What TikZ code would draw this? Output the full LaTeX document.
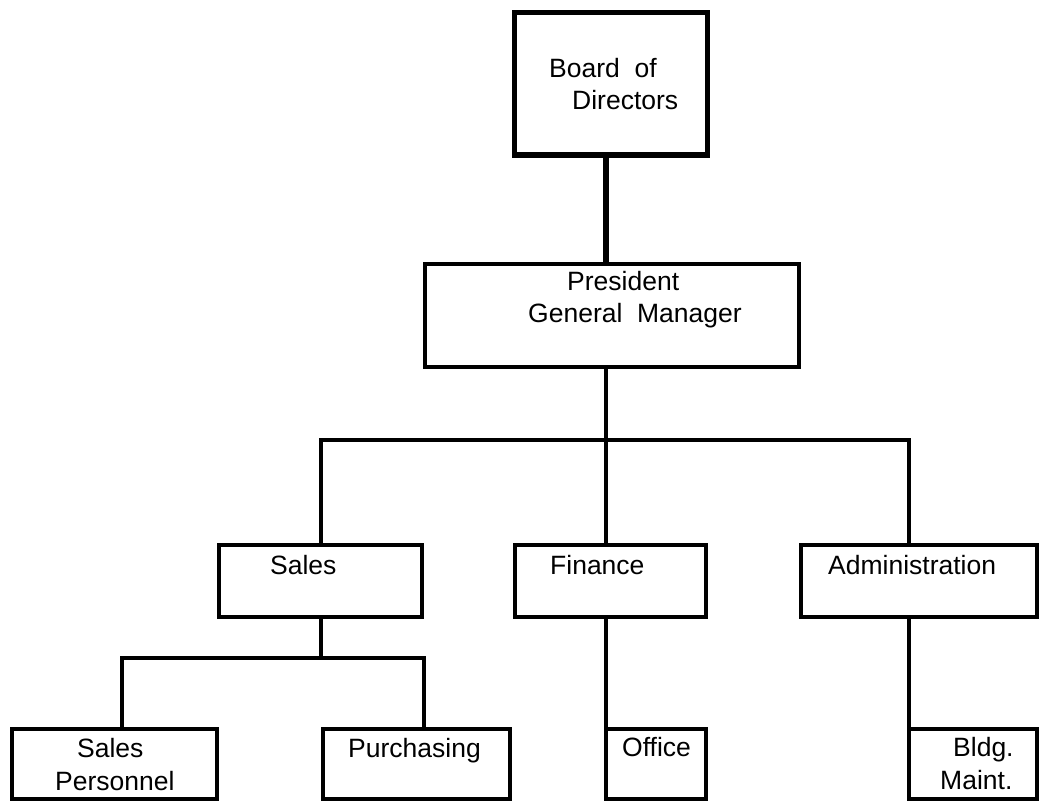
\documentclass[tikz,border=0pt]{standalone}
\usepackage{fontspec}
\setmainfont{Liberation Sans}
\usetikzlibrary{positioning}

\begin{document}
\begin{tikzpicture}[x=1pt,y=-1pt,
  box/.style={draw,line width=4pt,inner sep=0pt,outer sep=0pt,line join=miter},
  link/.style={line width=4pt,line join=miter},
  lbl/.style={anchor=base west,inner sep=0pt,font=\fontsize{26.5}{30}\selectfont}]
\useasboundingbox (0,0) rectangle (1039,802);
 % boxes
\node[box,line width=5.5pt,minimum width=193pt,minimum height=142.5pt] (board) at (611,83.75) {};
\node[box,minimum width=374pt,minimum height=103pt] (pres) at (612,315.5) {};
\node[box,minimum width=203pt,minimum height=72pt] (sales) at (320.5,581) {};
\node[box,minimum width=190.5pt,minimum height=72pt] (finance) at (610.25,581) {};
\node[box,minimum width=236pt,minimum height=72pt] (admin) at (919,581) {};
\node[box,minimum width=205pt,minimum height=70pt] (salesper) at (114.5,764) {};
\node[box,minimum width=187pt,minimum height=70pt] (purch) at (416,764) {};
\node[box,minimum width=100pt,minimum height=70pt] (office) at (656,764) {};
\node[box,minimum width=128pt,minimum height=70pt] (bldg) at (973,764) {};
 % texts
\node[lbl] (boardA) at (549,78) {Board~~of};
\node[lbl] (boardB) at (572,110) {Directors};
\node[lbl] (presA) at (567,291) {President};
\node[lbl] (presB) at (528,323) {General~~Manager};
\node[lbl] (salesA) at (270,574) {Sales};
\node[lbl] (financeA) at (550,574) {Finance};
\node[lbl] (adminA) at (828,574) {Administration};
\node[lbl] (salesperA) at (77,757) {Sales};
\node[lbl] (salesperB) at (55,790) {Personnel};
\node[lbl] (purchA) at (348,757) {Purchasing};
\node[lbl] (officeA) at (622,756) {Office};
\node[lbl] (bldgA) at (953,756) {Bldg.};
\node[lbl] (bldgB) at (940,789) {Maint.};
 % connectors
\coordinate (trunk) at (606,440);
\coordinate (barL) at (321,440);
\coordinate (barR) at (908.5,440);
\coordinate (subL) at (121.5,658);
\coordinate (subR) at (424,658);
\draw[link,line width=6pt] (board.south -| trunk) -- (pres.north -| trunk);
\draw[link] (pres.south -| trunk) -- (finance.north -| trunk);
\draw[link] (sales.north -| barL) -- (barL) -- (barR) -- (admin.north -| barR);
\draw[link] (sales.south) -- (sales.south |- subL);
\draw[link] (salesper.north -| subL) -- (subL) -- (subR) -- (purch.north -| subR);
\draw[link] (finance.south -| office.west) -- (office.north west);
\draw[link] (admin.south -| bldg.west) -- (bldg.north west);
\end{tikzpicture}
\end{document}
